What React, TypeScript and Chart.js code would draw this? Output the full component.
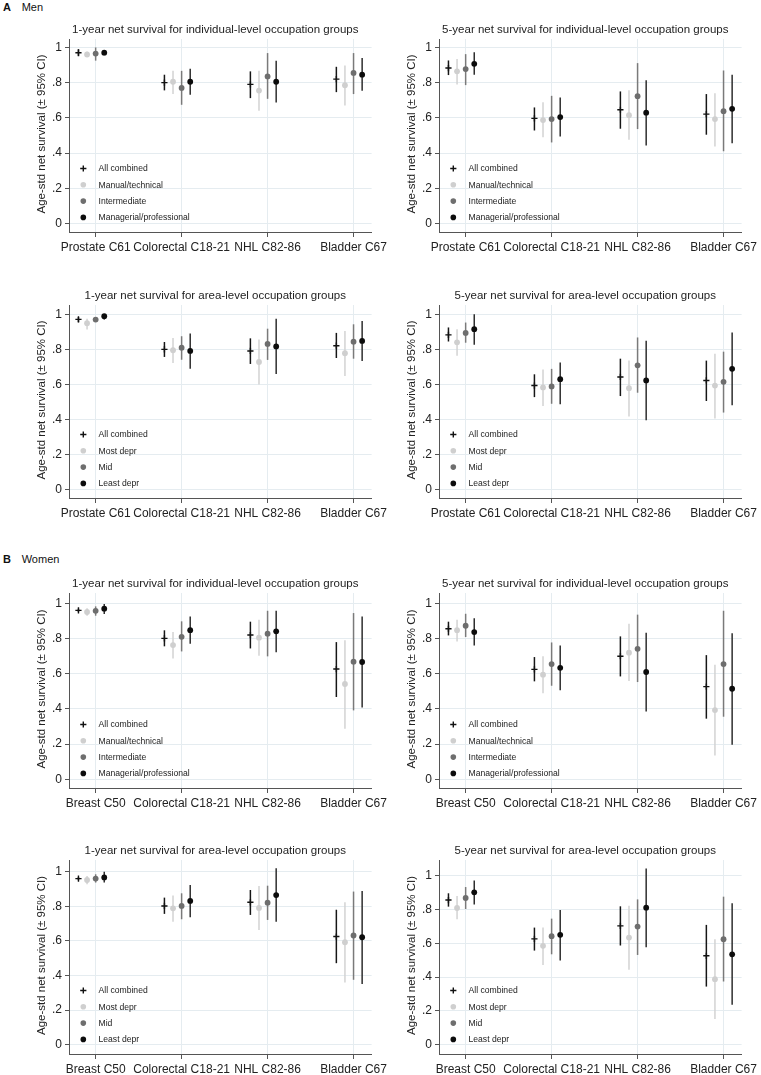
import React, { useEffect, useRef } from 'react';
import { Chart, registerables } from 'chart.js';

Chart.register(...registerables);

const FONT = '"Liberation Sans", Arial, Helvetica, sans-serif';

// ---------- categories / labels ----------
const menCancers = ['Prostate C61', 'Colorectal C18-21', 'NHL C82-86', 'Bladder C67'];
const womenCancers = ['Breast C50', 'Colorectal C18-21', 'NHL C82-86', 'Bladder C67'];
const indivGroups = ['All combined', 'Manual/technical', 'Intermediate', 'Managerial/professional'];
const areaGroups = ['All combined', 'Most depr', 'Mid', 'Least depr'];
const yTicks = [0, 0.2, 0.4, 0.6, 0.8, 1];
const yTickLabels = ['0', '.2', '.4', '.6', '.8', '1'];
const yAxisTitle = 'Age-std net survival (\u00b1 95% CI)';
const titleInd1 = '1-year net survival for individual-level occupation groups';
const titleInd5 = '5-year net survival for individual-level occupation groups';
const titleArea1 = '1-year net survival for area-level occupation groups';
const titleArea5 = '5-year net survival for area-level occupation groups';

// ---------- data: rows = groups, columns = cancers ----------
// Men, 1-year, individual-level
const men1IndEst = [[0.97, 0.8, 0.79, 0.82], [0.96, 0.805, 0.755, 0.785], [0.965, 0.77, 0.835, 0.855], [0.97, 0.805, 0.805, 0.845]];
const men1IndLo = [[0.95, 0.756, 0.712, 0.746], [0.945, 0.735, 0.64, 0.67], [0.925, 0.674, 0.708, 0.735], [0.955, 0.731, 0.687, 0.754]];
const men1IndHi = [[0.99, 0.845, 0.864, 0.89], [0.975, 0.867, 0.867, 0.898], [1.0, 0.867, 0.968, 0.968], [0.985, 0.879, 0.924, 0.94]];
// Men, 5-year, individual-level
const men5IndEst = [[0.883, 0.597, 0.646, 0.621], [0.864, 0.587, 0.615, 0.593], [0.877, 0.593, 0.723, 0.638], [0.907, 0.604, 0.629, 0.651]];
const men5IndLo = [[0.843, 0.528, 0.538, 0.504], [0.79, 0.489, 0.475, 0.4375], [0.786, 0.46, 0.536, 0.41], [0.845, 0.494, 0.443, 0.456]];
const men5IndHi = [[0.926, 0.659, 0.75, 0.735], [0.934, 0.688, 0.756, 0.74], [0.962, 0.725, 0.911, 0.869], [0.972, 0.716, 0.814, 0.845]];
// Men, 1-year, area-level
const men1AreaEst = [[0.971, 0.8, 0.791, 0.821], [0.949, 0.795, 0.728, 0.778], [0.97, 0.81, 0.831, 0.844], [0.989, 0.791, 0.817, 0.848]];
const men1AreaLo = [[0.955, 0.757, 0.717, 0.751], [0.914, 0.722, 0.6, 0.648], [0.96, 0.741, 0.74, 0.747], [0.97, 0.69, 0.66, 0.734]];
const men1AreaHi = [[0.985, 0.842, 0.863, 0.894], [0.975, 0.865, 0.857, 0.905], [0.98, 0.875, 0.918, 0.943], [1.0, 0.89, 0.975, 0.962]];
// Men, 5-year, area-level
const men5AreaEst = [[0.883, 0.594, 0.643, 0.623], [0.84, 0.583, 0.579, 0.594], [0.894, 0.589, 0.709, 0.615], [0.915, 0.63, 0.623, 0.689]];
const men5AreaLo = [[0.845, 0.528, 0.534, 0.506], [0.764, 0.477, 0.417, 0.406], [0.838, 0.49, 0.553, 0.44], [0.826, 0.487, 0.396, 0.481]];
const men5AreaHi = [[0.925, 0.658, 0.747, 0.736], [0.915, 0.685, 0.736, 0.775], [0.953, 0.689, 0.868, 0.787], [1.0, 0.725, 0.849, 0.896]];
// Women, 1-year, individual-level
const wom1IndEst = [[0.96, 0.801, 0.82, 0.627], [0.951, 0.763, 0.805, 0.542], [0.958, 0.81, 0.828, 0.669], [0.97, 0.848, 0.841, 0.667]];
const wom1IndLo = [[0.95, 0.756, 0.744, 0.468], [0.93, 0.6875, 0.703, 0.288], [0.93, 0.727, 0.699, 0.392], [0.94, 0.771, 0.723, 0.409]];
const wom1IndHi = [[0.97, 0.847, 0.896, 0.78], [0.973, 0.837, 0.907, 0.79], [0.983, 0.898, 0.958, 0.945], [0.996, 0.926, 0.958, 0.926]];
// Women, 5-year, individual-level
const wom5IndEst = [[0.856, 0.625, 0.7, 0.527], [0.848, 0.595, 0.72, 0.394], [0.873, 0.655, 0.742, 0.655], [0.837, 0.634, 0.61, 0.515]];
const wom5IndLo = [[0.818, 0.557, 0.585, 0.345], [0.784, 0.489, 0.559, 0.136], [0.809, 0.532, 0.553, 0.356], [0.761, 0.506, 0.386, 0.197]];
const wom5IndHi = [[0.896, 0.695, 0.8125, 0.706], [0.907, 0.699, 0.884, 0.652], [0.941, 0.778, 0.936, 0.958], [0.915, 0.761, 0.833, 0.831]];
// Women, 1-year, area-level
const wom1AreaEst = [[0.96, 0.802, 0.823, 0.625], [0.952, 0.788, 0.79, 0.592], [0.96, 0.802, 0.821, 0.631], [0.967, 0.831, 0.865, 0.621]];
const wom1AreaLo = [[0.95, 0.756, 0.75, 0.471], [0.927, 0.71, 0.663, 0.36], [0.937, 0.725, 0.721, 0.375], [0.937, 0.737, 0.71, 0.35]];
const wom1AreaHi = [[0.97, 0.85, 0.894, 0.78], [0.975, 0.862, 0.917, 0.823], [0.985, 0.875, 0.919, 0.885], [1.0, 0.923, 1.02, 0.888]];
// Women, 5-year, area-level
const wom5AreaEst = [[0.856, 0.626, 0.703, 0.526], [0.809, 0.585, 0.634, 0.388], [0.868, 0.642, 0.699, 0.624], [0.902, 0.65, 0.811, 0.535]];
const wom5AreaLo = [[0.817, 0.557, 0.587, 0.344], [0.742, 0.472, 0.443, 0.152], [0.803, 0.535, 0.531, 0.374], [0.83, 0.498, 0.577, 0.236]];
const wom5AreaHi = [[0.896, 0.693, 0.819, 0.709], [0.88, 0.693, 0.823, 0.624], [0.933, 0.746, 0.86, 0.876], [0.972, 0.797, 1.043, 0.837]];

// ---------- styling ----------
const groupOffsets = [-0.2, -0.1, 0, 0.1];
const groupStyles = [
  { point: 'cross', fill: '#111111', ci: '#161616', r: 3.1 },
  { point: 'circle', fill: '#cfcfcf', ci: '#d3d3d3', r: 2.9 },
  { point: 'circle', fill: '#6e6e6e', ci: '#7a7a7a', r: 2.9 },
  { point: 'circle', fill: '#0c0c0c', ci: '#2e2e2e', r: 2.9 },
];
const GRID = '#e5ecf0';
const AXIS = '#555555';
const TEXT = '#222222';

type PanelSpec = {
  key: string;
  colLeft: number;
  chartTop: number;
  chartBottom: number;
  ymin: number;
  ymax: number;
  title: string;
  cancers: string[];
  groups: string[];
  est: number[][];
  lo: number[][];
  hi: number[][];
};

const COL0 = 0;
const COL1 = 370;
const CANVAS_W = 410;
const CHART_LEFT = 69;
const CHART_RIGHT = 371.6;
const TOP_PAD = 25;
const X_AXIS_H = 32;

const panels: PanelSpec[] = [
  { key: 'm1i', colLeft: COL0, chartTop: 39.3, chartBottom: 232.3, ymin: -0.049, ymax: 1.048, title: titleInd1, cancers: menCancers, groups: indivGroups, est: men1IndEst, lo: men1IndLo, hi: men1IndHi },
  { key: 'm5i', colLeft: COL1, chartTop: 39.3, chartBottom: 232.3, ymin: -0.049, ymax: 1.048, title: titleInd5, cancers: menCancers, groups: indivGroups, est: men5IndEst, lo: men5IndLo, hi: men5IndHi },
  { key: 'm1a', colLeft: COL0, chartTop: 304.5, chartBottom: 497.5, ymin: -0.047, ymax: 1.053, title: titleArea1, cancers: menCancers, groups: areaGroups, est: men1AreaEst, lo: men1AreaLo, hi: men1AreaHi },
  { key: 'm5a', colLeft: COL1, chartTop: 304.5, chartBottom: 497.5, ymin: -0.047, ymax: 1.053, title: titleArea5, cancers: menCancers, groups: areaGroups, est: men5AreaEst, lo: men5AreaLo, hi: men5AreaHi },
  { key: 'w1i', colLeft: COL0, chartTop: 593.3, chartBottom: 788.3, ymin: -0.049, ymax: 1.059, title: titleInd1, cancers: womenCancers, groups: indivGroups, est: wom1IndEst, lo: wom1IndLo, hi: wom1IndHi },
  { key: 'w5i', colLeft: COL1, chartTop: 593.3, chartBottom: 788.3, ymin: -0.049, ymax: 1.059, title: titleInd5, cancers: womenCancers, groups: indivGroups, est: wom5IndEst, lo: wom5IndLo, hi: wom5IndHi },
  { key: 'w1a', colLeft: COL0, chartTop: 860, chartBottom: 1054.3, ymin: -0.054, ymax: 1.0675, title: titleArea1, cancers: womenCancers, groups: areaGroups, est: wom1AreaEst, lo: wom1AreaLo, hi: wom1AreaHi },
  { key: 'w5a', colLeft: COL1, chartTop: 860, chartBottom: 1054.3, ymin: -0.055, ymax: 1.093, title: titleArea5, cancers: womenCancers, groups: areaGroups, est: wom5AreaEst, lo: wom5AreaLo, hi: wom5AreaHi },
];

const ciPlugin = {
  id: 'ciBars',
  beforeDatasetsDraw(chart: any) {
    const { ctx, scales } = chart;
    const xs = scales.x;
    const ys = scales.y;
    chart.data.datasets.forEach((ds: any) => {
      ctx.save();
      ctx.strokeStyle = ds.ciColor;
      ctx.lineWidth = 1.5;
      ds.data.forEach((pt: any, i: number) => {
        const px = xs.getPixelForValue(pt.x);
        ctx.beginPath();
        ctx.moveTo(px, ys.getPixelForValue(ds.ciLo[i]));
        ctx.lineTo(px, ys.getPixelForValue(ds.ciHi[i]));
        ctx.stroke();
      });
      ctx.restore();
    });
  },
};

function makeTextPlugin(p: PanelSpec) {
  return {
    id: 'panelText',
    afterDraw(chart: any) {
      const { ctx, chartArea: a } = chart;
      ctx.save();
      ctx.fillStyle = TEXT;
      ctx.textAlign = 'center';
      ctx.textBaseline = 'middle';
      ctx.font = `11.5px ${FONT}`;
      ctx.fillText(p.title, (a.left + a.right) / 2 - 5, a.top - 9);
      ctx.save();
      ctx.translate(a.left - 27.3, (a.top + a.bottom) / 2 - 1.5);
      ctx.rotate(-Math.PI / 2);
      ctx.fillText(yAxisTitle, 0, 0);
      ctx.restore();
      // legend inside plot region
      ctx.font = `8.6px ${FONT}`;
      ctx.textAlign = 'left';
      p.groups.forEach((g, gi) => {
        const yy = a.bottom - 63.5 + gi * 16.3;
        const xx = a.left + 14.3;
        const st = groupStyles[gi];
        if (st.point === 'cross') {
          ctx.strokeStyle = st.fill;
          ctx.lineWidth = 1.4;
          ctx.beginPath();
          ctx.moveTo(xx - 3.1, yy);
          ctx.lineTo(xx + 3.1, yy);
          ctx.moveTo(xx, yy - 3.1);
          ctx.lineTo(xx, yy + 3.1);
          ctx.stroke();
        } else {
          ctx.fillStyle = st.fill;
          ctx.beginPath();
          ctx.arc(xx, yy, 2.8, 0, Math.PI * 2);
          ctx.fill();
        }
        ctx.fillStyle = TEXT;
        ctx.fillText(g, a.left + 29.5, yy + 0.5);
      });
      ctx.restore();
    },
  };
}

function Panel({ p }: { p: PanelSpec }) {
  const ref = useRef<HTMLCanvasElement>(null);
  const top = p.chartTop - TOP_PAD;
  const height = p.chartBottom + X_AXIS_H - top;
  useEffect(() => {
    if (!ref.current) return;
    const datasets = p.groups.map((g, gi) => ({
      label: g,
      data: p.cancers.map((_c, ci) => ({ x: ci + 1 + groupOffsets[gi], y: p.est[gi][ci] })),
      ciLo: p.lo[gi],
      ciHi: p.hi[gi],
      ciColor: groupStyles[gi].ci,
      pointStyle: groupStyles[gi].point,
      pointRadius: groupStyles[gi].r,
      pointHoverRadius: groupStyles[gi].r,
      backgroundColor: groupStyles[gi].fill,
      borderColor: groupStyles[gi].fill,
      borderWidth: gi === 0 ? 1.4 : 0,
      showLine: false,
    }));
    const chart = new Chart(ref.current, {
      type: 'scatter',
      data: { datasets } as any,
      options: {
        animation: false,
        responsive: false,
        devicePixelRatio: 1,
        layout: { padding: { left: 0, right: CANVAS_W - CHART_RIGHT, top: TOP_PAD, bottom: 0 } },
        plugins: { legend: { display: false }, tooltip: { enabled: false }, title: { display: false } },
        scales: {
          x: {
            type: 'linear',
            min: 0.69,
            max: 4.21,
            afterBuildTicks: (s: any) => {
              s.ticks = p.cancers.map((_c, i) => ({ value: i + 1 }));
            },
            afterFit: (s: any) => {
              s.height = X_AXIS_H;
            },
            ticks: {
              autoSkip: false,
              maxRotation: 0,
              minRotation: 0,
              padding: 3,
              color: TEXT,
              font: { family: FONT, size: 12 },
              callback: (v: any) => p.cancers[Math.round(Number(v)) - 1] ?? '',
            },
            grid: { color: GRID, lineWidth: 1, drawTicks: true, tickLength: 5, tickColor: AXIS },
            border: { display: true, color: AXIS, width: 1 },
          },
          y: {
            type: 'linear',
            min: p.ymin,
            max: p.ymax,
            afterBuildTicks: (s: any) => {
              s.ticks = yTicks.map((v) => ({ value: v }));
            },
            afterFit: (s: any) => {
              s.width = CHART_LEFT;
            },
            ticks: {
              padding: 3,
              color: TEXT,
              font: { family: FONT, size: 12 },
              callback: (v: any) => {
                const i = yTicks.findIndex((t) => Math.abs(t - Number(v)) < 1e-6);
                return i >= 0 ? yTickLabels[i] : '';
              },
            },
            grid: { color: GRID, lineWidth: 1, drawTicks: true, tickLength: 4, tickColor: AXIS },
            border: { display: true, color: AXIS, width: 1 },
          },
        },
      } as any,
      plugins: [ciPlugin, makeTextPlugin(p)] as any,
    });
    return () => chart.destroy();
  }, []);
  return (
    <canvas
      ref={ref}
      width={CANVAS_W}
      height={Math.round(height)}
      style={{ position: 'absolute', left: p.colLeft, top: top, width: CANVAS_W, height: Math.round(height) }}
    />
  );
}

export default function App() {
  const label: React.CSSProperties = { position: 'absolute', fontSize: 11, lineHeight: '12px', fontFamily: FONT, color: '#111' };
  return (
    <div style={{ position: 'absolute', left: 0, top: 0, width: 761, height: 1075, overflow: 'hidden', background: '#ffffff' }}>
      {panels.map((p) => (
        <Panel key={p.key} p={p} />
      ))}
      <div style={{ ...label, left: 3, top: 1.3, fontWeight: 'bold' }}>A</div>
      <div style={{ ...label, left: 21.7, top: 1.3 }}>Men</div>
      <div style={{ ...label, left: 3, top: 553.2, fontWeight: 'bold' }}>B</div>
      <div style={{ ...label, left: 21.7, top: 553.2 }}>Women</div>
    </div>
  );
}
